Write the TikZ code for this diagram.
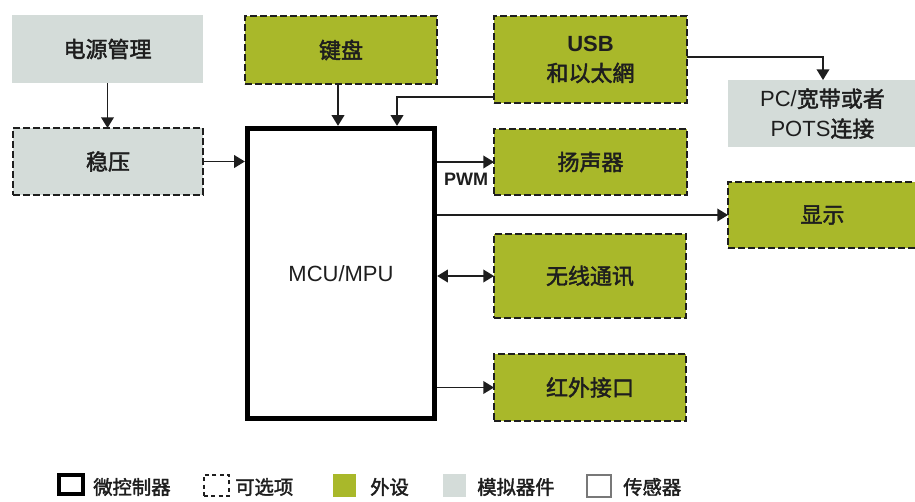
\documentclass[tikz,border=0pt]{standalone}
\usepackage{fontspec}
\setmainfont{Liberation Sans}
\newfontfamily\cjk{Noto Sans CJK SC}[FakeBold=2]
\usetikzlibrary{arrows.meta}
\definecolor{pgreen}{RGB}{169,184,42}
\definecolor{agray}{RGB}{212,220,217}
\definecolor{ink}{RGB}{30,30,30}
% \mybox{name}{style}{x1}{y1}{x2}{y2}{text}  (pixel coordinates, y downwards)
\newcommand\mybox[7]{%
  \pgfmathsetmacro\bxw{(#5-#3)*0.75}%
  \pgfmathsetmacro\bxh{(#6-#4)*0.75}%
  \node[#2, minimum width=\bxw pt, minimum height=\bxh pt] (#1) at ({(#3+#5)/2},{(#4+#6)/2}) {#7};}
\begin{document}
\begin{tikzpicture}[x=0.75pt,y=-0.75pt,
  base/.style={inner sep=0pt, outer sep=0pt, text=ink, align=center, font=\fontsize{16.5}{22.5}\selectfont},
  optbox/.style={draw=ink, line width=1.5pt, dash pattern=on 5pt off 2.5pt},
  periph/.style={fill=pgreen},
  analog/.style={fill=agray},
  mcubox/.style={draw=black, line width=4pt, fill=white},
  conn/.style={draw=ink, line width=1.1pt, -{Triangle[length=8pt,width=9.5pt]}},
  dconn/.style={draw=ink, line width=1.1pt, {Triangle[length=8pt,width=9.5pt]}-{Triangle[length=8pt,width=9.5pt]}},
  legtext/.style={inner sep=0pt, anchor=west, text=ink, font=\fontsize{14.5}{16}\selectfont\cjk},
  legbox/.style={inner sep=0pt, outer sep=0pt}
]
\useasboundingbox (0,0) rectangle (915,501);

% boxes
\mybox{pwr}{base, analog}{12}{15}{203}{83}{\cjk 电源管理}
\mybox{reg}{base, analog, optbox}{13}{128}{203}{195}{\cjk 稳压}
\mybox{kbd}{base, periph, optbox}{245}{16}{437}{84}{\cjk 键盘}
\mybox{usb}{base, periph, optbox}{494}{16}{687}{103}{{\bfseries USB}\\{\cjk 和以太網}}
\mybox{pc}{base, analog}{728}{80}{917}{147}{{PC/}{\cjk 宽带或者}\\{POTS}{\cjk 连接}}
\mybox{mcu}{base, mcubox}{247.5}{128.5}{434.5}{418.5}{MCU/MPU}
\mybox{spk}{base, periph, optbox}{494}{129}{687}{195}{\cjk 扬声器}
\mybox{disp}{base, periph, optbox}{728}{182}{917}{248}{\cjk 显示}
\mybox{wl}{base, periph, optbox}{494}{234}{686}{318}{\cjk 无线通讯}
\mybox{ir}{base, periph, optbox}{494}{354}{686}{421}{\cjk 红外接口}

% connectors
\coordinate (mE) at ([xshift=2pt]mcu.east);
\coordinate (mN) at ([yshift=2pt]mcu.north);
\coordinate (mW) at ([xshift=-2pt]mcu.west);
\draw[conn] (pwr.south) -- (pwr.south |- reg.north);
\draw[conn] (reg.east) -- (reg.east -| mW);
\coordinate (k1) at (338,100);
\draw[conn] (kbd.south -| k1) -- (k1 |- mN);
\coordinate (u1) at (397,97);
\draw[conn] (usb.west |- u1) -- (u1) -- (u1 |- mN);
\coordinate (u2) at (823,57);
\draw[conn] (usb.east |- u2) -- (u2) -- (u2 |- pc.north);
\draw[conn] (spk.west -| mE) -- (spk.west);
\node[inner sep=0pt, text=ink, font=\fontsize{13.5}{16}\selectfont\bfseries] (pwm) at (466,179) {PWM};
\draw[conn] (disp.west -| mE) -- (disp.west);
\draw[dconn] (wl.west -| mE) -- (wl.west);
\draw[conn] (ir.west -| mE) -- (ir.west);

% legend
\mybox{lg1}{legbox, draw=black, line width=3pt}{59}{475}{83}{494}{}
\node[legtext] (lt1) at (93,487) {微控制器};
\mybox{lg2}{legbox, draw=ink, line width=1.3pt, dash pattern=on 3pt off 2.5pt}{204}{475}{229}{496}{}
\node[legtext] (lt2) at (235,487) {可选项};
\mybox{lg3}{legbox, fill=pgreen}{333}{474}{356}{497}{}
\node[legtext] (lt3) at (370,487) {外设};
\mybox{lg4}{legbox, fill=agray}{443}{474}{466}{497}{}
\node[legtext] (lt4) at (477,487) {模拟器件};
\mybox{lg5}{legbox, draw=ink!60, line width=0.8pt, fill=white}{587}{475}{611}{497}{}
\node[legtext] (lt5) at (623,487) {传感器};
\end{tikzpicture}
\end{document}
